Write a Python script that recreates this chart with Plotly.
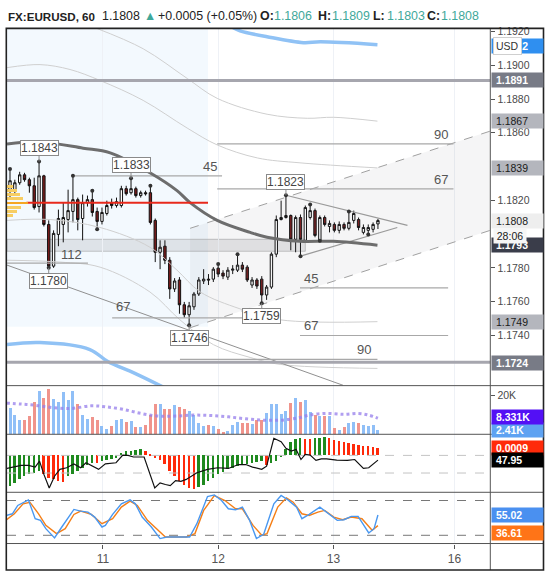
import plotly.graph_objects as go

# ---------------- data ----------------
bar_index = list(range(77))
opens = [1.18257, 1.18257, 1.18304, 1.18351, 1.18322, 1.18286, 1.18163, 1.18345, 1.18057, 1.17810,
         1.17998, 1.18057, 1.18086, 1.18134, 1.18204, 1.18092, 1.18186, 1.18204, 1.18134, 1.18075,
         1.18122, 1.18186, 1.18169, 1.18169, 1.18269, 1.18245, 1.18269, 1.18228, 1.18245, 1.18245,
         1.18081, 1.17892, 1.17928, 1.17845, 1.17675, 1.17728, 1.17581, 1.17522, 1.17569, 1.17645,
         1.17722, 1.17733, 1.17733, 1.17798, 1.17769, 1.17745, 1.17786, 1.17786, 1.17816, 1.17804,
         1.17698, 1.17728, 1.17733, 1.17639, 1.17686, 1.17881, 1.18086, 1.18098, 1.18110, 1.17969,
         1.18098, 1.17963, 1.18098, 1.18139, 1.17963, 1.18098, 1.18045, 1.18057, 1.18022, 1.18057,
         1.18034, 1.18081, 1.18086, 1.18010, 1.18022, 1.18028, 1.18060]
highs = [1.18386, 1.18322, 1.18369, 1.18363, 1.18334, 1.18334, 1.18430, 1.18351, 1.18081, 1.18022,
         1.18145, 1.18186, 1.18263, 1.18345, 1.18216, 1.18234, 1.18228, 1.18257, 1.18157, 1.18157,
         1.18198, 1.18210, 1.18216, 1.18286, 1.18286, 1.18330, 1.18281, 1.18257, 1.18257, 1.18286,
         1.18092, 1.17963, 1.17963, 1.17863, 1.17739, 1.17745, 1.17598, 1.17598, 1.17657, 1.17745,
         1.17792, 1.17763, 1.17804, 1.17822, 1.17786, 1.17804, 1.17816, 1.17881, 1.17834, 1.17816,
         1.17745, 1.17739, 1.17751, 1.17698, 1.17892, 1.18110, 1.18198, 1.18230, 1.18116, 1.18110,
         1.18116, 1.18169, 1.18175, 1.18151, 1.18110, 1.18110, 1.18081, 1.18069, 1.18075, 1.18069,
         1.18134, 1.18139, 1.18098, 1.18057, 1.18057, 1.18069, 1.18090]
lows = [1.18216, 1.18228, 1.18292, 1.18310, 1.18245, 1.18145, 1.18128, 1.18045, 1.17800, 1.17800,
        1.17928, 1.17951, 1.18010, 1.18069, 1.18022, 1.17963, 1.18163, 1.18104, 1.18028, 1.18057,
        1.18110, 1.18151, 1.18157, 1.18157, 1.18228, 1.18234, 1.18216, 1.18216, 1.18228, 1.18057,
        1.17834, 1.17792, 1.17822, 1.17616, 1.17657, 1.17528, 1.17504, 1.17460, 1.17551, 1.17633,
        1.17704, 1.17698, 1.17716, 1.17745, 1.17733, 1.17728, 1.17763, 1.17775, 1.17775, 1.17716,
        1.17681, 1.17675, 1.17590, 1.17610, 1.17675, 1.17863, 1.18081, 1.18092, 1.17904, 1.17892,
        1.17869, 1.17951, 1.18086, 1.17981, 1.17960, 1.18045, 1.18010, 1.18010, 1.18004, 1.18022,
        1.18022, 1.18063, 1.18022, 1.17998, 1.17998, 1.18010, 1.18030]
closes = [1.18316, 1.18304, 1.18351, 1.18322, 1.18286, 1.18157, 1.18345, 1.18057, 1.17810, 1.18004,
          1.18092, 1.18098, 1.18139, 1.18204, 1.18086, 1.18186, 1.18204, 1.18128, 1.18075, 1.18128,
          1.18169, 1.18169, 1.18192, 1.18269, 1.18239, 1.18269, 1.18228, 1.18245, 1.18239, 1.18069,
          1.17892, 1.17922, 1.17845, 1.17675, 1.17722, 1.17581, 1.17522, 1.17575, 1.17645, 1.17728,
          1.17733, 1.17728, 1.17792, 1.17763, 1.17751, 1.17786, 1.17792, 1.17816, 1.17792, 1.17728,
          1.17728, 1.17692, 1.17639, 1.17686, 1.17881, 1.18086, 1.18098, 1.18110, 1.17969, 1.18098,
          1.17969, 1.18157, 1.18139, 1.17992, 1.18098, 1.18057, 1.18063, 1.18022, 1.18057, 1.18034,
          1.18069, 1.18122, 1.18039, 1.18039, 1.18039, 1.18057, 1.18080]

volumes_k = [13.8, 10.3, 7.6, 7.6, 9.7, 17.0, 22.3, 18.8, 23.5, 18.2,
             16.8, 21.8, 17.9, 22.8, 15.8, 9.9, 8.0, 9.0, 7.6, 4.4,
             3.0, 4.4, 7.6, 8.1, 6.7, 6.9, 4.1, 4.1, 5.0, 10.3,
             15.9, 15.9, 13.5, 13.3, 15.2, 14.2, 13.5, 12.0, 10.3, 6.2,
             4.4, 5.0, 4.4, 3.0, 1.4, 1.9, 5.0, 6.7, 5.8, 5.8,
             5.3, 7.6, 7.6, 11.2, 15.6, 15.9, 10.8, 12.4, 16.5, 19.1,
             16.8, 18.1, 11.5, 10.3, 9.4, 9.7, 9.4, 3.5, 2.3, 3.7,
             5.8, 6.7, 6.2, 5.0, 4.4, 5.0, 2.41]
vol_ma_x = [-0.7, 2.3, 5.2, 8.8, 12.5, 16.8, 19.7, 23.3, 27.0, 30.6, 34.2, 37.9, 41.5, 45.1,
            48.7, 52.4, 56.0, 59.6, 61.8, 65.4, 69.0, 71.9, 74.1, 76.0]
vol_ma_k = [16.1, 15.6, 15.0, 13.8, 13.3, 14.7, 14.2, 12.9, 10.8, 9.4, 9.4, 9.9, 9.7, 9.0,
            8.0, 7.3, 7.3, 8.5, 9.9, 10.8, 10.3, 10.8, 9.9, 8.331]

hist_e4 = [-37.6, -33.5, -29.4, -25.4, -23.3, -21.3, -19.2, -23.3, -27.4, -29.4,
           -31.5, -32.0, -25.4, -23.3, -19.2, -15.1, -12.3, -9.0, -9.5, -7.0,
           -5.7, -4.9, -3.7, 2.5, 4.5, 5.3, 6.1, 7.0, 4.5, 2.0,
           -2.9, -5.7, -11.0, -19.2, -25.4, -30.7, -35.6, -39.7, -40.9, -38.9,
           -35.6, -31.5, -27.4, -23.3, -20.0, -17.2, -15.1, -13.1, -11.0, -10.2,
           -9.0, -8.2, -7.4, -12.0, -9.0, -7.0, -2.0, 7.4, 16.4, 19.6,
           20.9, 19.6, 19.5, 20.9, 21.0, 21.7, 20.9, 18.4, 17.2, 16.4,
           15.1, 13.9, 12.7, 11.5, 10.6, 9.8, 9.0]
osc_x = [-0.7, 0.9, 2.3, 3.8, 5.2, 6.1, 7.0, 8.1, 9.2, 10.3, 11.7, 13.2, 14.6, 15.7, 17.2, 18.3,
         19.7, 21.9, 23.3, 24.4, 25.5, 27.7, 29.9, 31.0, 32.1, 33.1, 34.2, 35.3, 36.4, 38.6,
         40.8, 42.9, 45.1, 47.2, 48.7, 50.1, 52.0, 53.0, 54.5, 56.0, 57.0, 58.1, 59.1, 60.1,
         61.0, 62.0, 63.2, 64.3, 65.4, 67.5, 69.7, 71.2, 73.0, 74.1, 76.0]
osc_v = [44.3, 44.9, 45.6, 45.6, 44.9, 47.5, 41.7, 35.8, 40.9, 43.9, 44.6, 46.3, 44.6, 46.8, 45.3, 43.9,
         46.3, 46.8, 50.1, 50.0, 49.3, 49.3, 35.8, 38.0, 37.3, 36.8, 39.0, 38.7, 39.5, 42.4,
         43.9, 44.6, 44.3, 46.0, 46.0, 44.9, 43.9, 45.3, 57.5, 56.0, 53.1, 51.9, 52.6, 48.2,
         50.4, 50.1, 47.8, 48.5, 48.5, 47.95, 47.8, 48.2, 44.3, 44.6, 47.95]
osc_levels = [50.0, 42.3]

k_x = [-0.7, 0.5, 1.6, 3.0, 3.8, 5.2, 6.3, 7.4, 9.2, 10.7, 13.2, 14.6, 16.1, 17.5, 19.0, 19.7,
       21.2, 23.0, 24.8, 25.9, 27.3, 29.2, 31.0, 32.4, 37.1, 38.6, 40.8, 42.2, 43.7, 45.1,
       46.6, 48.0, 49.5, 50.9, 52.4, 54.5, 56.0, 57.4, 59.2, 60.3, 61.8, 64.0, 65.4, 67.6,
       69.0, 70.5, 71.9, 74.1, 75.2, 76.0]
k_v = [54.3, 57.1, 71.4, 77.1, 81.1, 48.6, 45.7, 31.4, 15.4, 34.3, 64.6, 61.7, 60.0, 51.4, 34.3, 37.1,
       56.0, 74.3, 81.1, 74.3, 51.4, 34.3, 14.3, 17.1, 17.1, 40.0, 86.9, 89.7, 80.0, 65.7,
       64.0, 68.6, 45.7, 14.3, 21.7, 74.3, 88.6, 81.1, 68.6, 48.6, 56.0, 68.6, 60.0, 45.7,
       46.9, 52.6, 52.6, 24.0, 31.4, 55.02]
d_x = [-0.7, 0.9, 2.7, 4.1, 5.9, 7.4, 9.6, 11.4, 13.2, 14.6, 16.8, 19.0, 21.2, 23.0, 24.8, 26.3,
       28.4, 30.2, 32.1, 36.4, 38.2, 40.0, 42.2, 44.4, 46.6, 48.0, 50.2, 52.0, 53.1, 55.3,
       57.1, 58.5, 60.3, 61.8, 63.6, 65.0, 66.9, 68.7, 70.5, 72.7, 74.8, 76.0]
d_v = [46.9, 57.1, 74.3, 77.1, 57.1, 37.1, 22.9, 31.4, 56.0, 61.7, 56.0, 40.0, 48.6, 68.6, 78.9, 71.4,
       45.7, 31.4, 17.1, 17.1, 22.9, 62.9, 88.6, 80.0, 65.7, 65.7, 37.1, 20.0, 22.9, 68.6,
       84.6, 77.1, 57.1, 54.3, 60.0, 62.9, 51.4, 46.9, 51.4, 48.6, 28.6, 36.61]
stoch_levels = [80, 20]

# overlays on the price panel
ma_x = [-0.62, 6.2, 15.1, 20.7, 28.9, 34.5, 37.2, 42.8, 49.6, 53.1, 59.9, 66.8, 75.9]
ma_p = [1.18534, 1.18546, 1.18509, 1.18481, 1.18363, 1.18257, 1.18186, 1.18081, 1.18010,
        1.17981, 1.17957, 1.17957, 1.17934]
band_a_x = [17.6, 27.5, 36.6, 42.8, 53.1, 61.4, 66.8, 75.9]
band_a_p = [1.19222, 1.19098, 1.18922, 1.18804, 1.18710, 1.18686, 1.18692, 1.18669]
band_b_x = [-0.62, 6.2, 12.4, 18.6, 27.5, 36.6, 42.8, 51.1, 59.9, 75.9]
band_b_p = [1.18986, 1.19004, 1.18975, 1.18910, 1.18792, 1.18628, 1.18528, 1.18451, 1.18422, 1.18392]
band_c_x = [-0.62, 8.3, 18.6, 28.9, 34.5, 39.3, 47.5, 55.8, 75.9]
band_c_p = [1.18081, 1.18086, 1.18039, 1.17922, 1.17786, 1.17657, 1.17557, 1.17492, 1.17481]
band_d_x = [-0.62, 10.3, 18.6, 28.9, 35.1, 42.0, 49.6, 55.8, 75.9]
band_d_p = [1.17845, 1.17834, 1.17804, 1.17657, 1.17492, 1.17345, 1.17269, 1.17228, 1.17204]
blue_top_x = [46.1, 47.5, 53.1, 60.6, 64.1, 75.9]
blue_top_p = [1.19222, 1.19204, 1.19169, 1.19134, 1.19139, 1.19122]
blue_low_x = [-0.62, 6.2, 16.5, 20.2, 25.8, 32.6]
blue_low_p = [1.17345, 1.17357, 1.17316, 1.17245, 1.17175, 1.17080]
trend_x = [-0.62, 68.8]
trend_p = [1.17816, 1.17104]
channel_up_x = [37.2, 99.2]
channel_up_p = [1.18034, 1.18610]
channel_lo_x = [37.2, 99.2]
channel_lo_p = [1.17445, 1.18022]
tri_up_x = [57, 82.1]
tri_up_p = [1.18230, 1.18051]
tri_lo_x = [60, 80.0]
tri_lo_p = [1.17869, 1.18039]
red_level = 1.18185
red_x = [3.4, 40.9]
band_zone = [1.17898, 1.17969]
band_zone_x = [-0.62, 61.0]
session_x = [-0.62, 40.9]
session_p = [1.17451, 1.19216]

fib_text = ["45", "90", "67", "45", "67", "90", "67", "112"]
fib_price = [1.18345, 1.18534, 1.18268, 1.17681, 1.17399, 1.17257, 1.17504, 1.17828]
fib_x0 = [13.0, 42.8, 42.8, 59.9, 59.9, 35.1, 21.1, -0.62]
fib_x1 = [43.8, 91.6, 91.6, 90.5, 90.5, 75.9, 48.6, 16.1]
fib_label_x = [41.3, 89.1, 89.1, 62.2, 62.2, 73.2, 23.4, 12.8]
fib_label_p = [1.18403, 1.18592, 1.18322, 1.17738, 1.17457, 1.17316, 1.17569, 1.17881]

pivot_high_idx = [0, 6, 13, 17, 25, 29, 43, 47, 57, 62, 70]
pivot_low_idx = [8, 18, 37, 52, 60, 64, 74]
pivot_label_idx = [6, 25, 57, 8, 37, 52]
pivot_label_kind = ["high", "high", "high", "low", "low", "low"]

profile_p = [1.18285, 1.18260, 1.18235, 1.18210, 1.18185, 1.18160, 1.18135, 1.18110]
profile_v = [30, 48, 62, 76, 100, 66, 48, 30]

day_ticks = [19.2, 43.0, 66.8, 91.8]
day_labels = ["11", "12", "13", "16"]
price_ticks = [1.174, 1.176, 1.178, 1.182, 1.186, 1.188, 1.190, 1.192]

# header pieces: (text, left x in px, colour key, bold)
header_parts = [("FX:EURUSD, 60", 6.3, "dark", True), ("1.1808", 99.5, "dark", False),
                ("▲", 141.5, "teal", False), ("+0.0005 (+0.05%)", 156, "dark", False),
                ("O:", 257.5, "dark", True), ("1.1806", 272, "teal", False),
                ("H:", 315.5, "dark", True), ("1.1809", 330, "teal", False),
                ("L:", 371, "dark", True), ("1.1803", 384.5, "teal", False),
                ("C:", 425, "dark", True), ("1.1808", 439, "teal", False)]

# ---------------- layout helpers ----------------
W, H = 549, 576
def px(xp):
    return xp / W
def py(yp):
    return 1 - yp / H

X_DOM = [px(7), px(490.3)]
X_RANGE = [-0.62, 99.21]
P_RANGE = [1.17102, 1.19216]

fig = go.Figure()

fig.add_trace(go.Scatter(
    x=channel_up_x + channel_lo_x[::-1], y=channel_up_p + channel_lo_p[::-1],
    fill="toself", fillcolor="rgba(120,120,130,0.07)", line=dict(width=0),
    mode="lines", hoverinfo="skip", showlegend=False))
for cx, cp in [(channel_up_x, channel_up_p), (channel_lo_x, channel_lo_p)]:
    fig.add_trace(go.Scatter(x=cx, y=cp, mode="lines",
                             line=dict(color="#a0a0a0", width=1, dash="dash"),
                             hoverinfo="skip", showlegend=False))

for bx, bp in [(band_a_x, band_a_p), (band_b_x, band_b_p), (band_c_x, band_c_p), (band_d_x, band_d_p)]:
    fig.add_trace(go.Scatter(x=bx, y=bp, mode="lines", line=dict(color="#cfcfcf", width=1, shape="spline"),
                             hoverinfo="skip", showlegend=False))

for bx, bp in [(blue_top_x, blue_top_p), (blue_low_x, blue_low_p)]:
    fig.add_trace(go.Scatter(x=bx, y=bp, mode="lines", line=dict(color="#90c2f5", width=3.5, shape="spline"),
                             hoverinfo="skip", showlegend=False))

fig.add_trace(go.Scatter(x=trend_x, y=trend_p, mode="lines", line=dict(color="#909090", width=1),
                         hoverinfo="skip", showlegend=False))

fx, fy = [], []
for a, b, p in zip(fib_x0, fib_x1, fib_price):
    fx += [a, b, None]
    fy += [p, p, None]
fig.add_trace(go.Scatter(x=fx, y=fy, mode="lines", line=dict(color="#a8a8a8", width=1.2),
                         hoverinfo="skip", showlegend=False))

for tx, tp in [(tri_up_x, tri_up_p), (tri_lo_x, tri_lo_p)]:
    fig.add_trace(go.Scatter(x=tx, y=tp, mode="lines", line=dict(color="#9a9a9a", width=1.2),
                             hoverinfo="skip", showlegend=False))

fig.add_trace(go.Scatter(x=ma_x, y=ma_p, mode="lines", line=dict(color="#6d6d6d", width=3, shape="spline"),
                         hoverinfo="skip", showlegend=False))

fig.add_trace(go.Scatter(x=red_x, y=[red_level, red_level], mode="lines",
                         line=dict(color="#e8291c", width=2), hoverinfo="skip", showlegend=False))

fig.add_trace(go.Bar(x=profile_v, y=profile_p, orientation="h", xaxis="x5", yaxis="y",
                     width=0.00017,
                     marker=dict(color=["#f5a623" if v == max(profile_v) else "#f7cd63" for v in profile_v],
                                 line=dict(width=0)),
                     hoverinfo="skip", showlegend=False))

fig.add_trace(go.Candlestick(
    x=bar_index, open=opens, high=highs, low=lows, close=closes,
    increasing=dict(line=dict(color="#111111", width=1), fillcolor="#ffffff"),
    decreasing=dict(line=dict(color="#111111", width=1), fillcolor="#7a1c1c"),
    whiskerwidth=0, hoverinfo="skip", showlegend=False))

fig.add_trace(go.Scatter(
    x=pivot_high_idx + pivot_low_idx,
    y=[highs[i] for i in pivot_high_idx] + [lows[i] for i in pivot_low_idx],
    mode="markers", marker=dict(color="#333333", size=4), hoverinfo="skip", showlegend=False))

up = [c >= o for o, c in zip(opens, closes)]
fig.add_trace(go.Bar(x=bar_index, y=[v * 1000 for v in volumes_k], xaxis="x2", yaxis="y2", width=0.62,
                     marker=dict(color=["#90bff7" if u else "#f0948c" for u in up], line=dict(width=0)),
                     hoverinfo="skip", showlegend=False))
fig.add_trace(go.Scatter(x=vol_ma_x, y=[v * 1000 for v in vol_ma_k], xaxis="x2", yaxis="y2", mode="lines",
                         line=dict(color="rgba(150,125,235,0.75)", width=3, dash="dot", shape="spline"),
                         hoverinfo="skip", showlegend=False))

hist = [h * 1e-4 for h in hist_e4]
hcol = ["#1f8a1f" if (i == 0 or hist[i] >= hist[i - 1]) else "#ff2a0a" for i in range(len(hist))]
fig.add_trace(go.Bar(x=bar_index, y=hist, xaxis="x3", yaxis="y3", width=0.4,
                     marker=dict(color=hcol, line=dict(width=0)), hoverinfo="skip", showlegend=False))
lx, ly = [], []
for lv in osc_levels:
    lx += [X_RANGE[0], X_RANGE[1], None]
    ly += [lv, lv, None]
fig.add_trace(go.Scatter(x=lx, y=ly, xaxis="x3", yaxis="y4", mode="lines",
                         line=dict(color="#c4c4c4", width=1, dash="dash"), hoverinfo="skip", showlegend=False))
fig.add_trace(go.Scatter(x=osc_x, y=osc_v, xaxis="x3", yaxis="y4", mode="lines",
                         line=dict(color="#111111", width=1.2), hoverinfo="skip", showlegend=False))

sx, sy = [], []
for lv in stoch_levels:
    sx += [X_RANGE[0], X_RANGE[1], None]
    sy += [lv, lv, None]
fig.add_trace(go.Scatter(x=sx, y=sy, xaxis="x4", yaxis="y5", mode="lines",
                         line=dict(color="#777777", width=1, dash="dash"), hoverinfo="skip", showlegend=False))
fig.add_trace(go.Scatter(x=d_x, y=d_v, xaxis="x4", yaxis="y5", mode="lines",
                         line=dict(color="#f57f17", width=1.4), hoverinfo="skip", showlegend=False))
fig.add_trace(go.Scatter(x=k_x, y=k_v, xaxis="x4", yaxis="y5", mode="lines",
                         line=dict(color="#4a98f0", width=1.4), hoverinfo="skip", showlegend=False))

# ---------------- axes ----------------
xcommon = dict(range=X_RANGE, domain=X_DOM, showgrid=True, gridcolor="#eef1f6", gridwidth=1,
               tickvals=day_ticks, ticktext=day_labels, zeroline=False, showline=False, fixedrange=True)
tick_font = dict(family="Liberation Sans, Arial, sans-serif", size=10.5, color="#4a4a4a")

layout = dict(
    width=W, height=H, autosize=False, margin=dict(l=0, r=0, t=0, b=0),
    paper_bgcolor="white", plot_bgcolor="rgba(0,0,0,0)",
    showlegend=False, hovermode=False, bargap=0,
    xaxis=dict(**xcommon, anchor="y", showticklabels=False, rangeslider=dict(visible=False)),
    xaxis2=dict(**xcommon, anchor="y2", showticklabels=False),
    xaxis3=dict(**xcommon, anchor="y3", showticklabels=False),
    xaxis4=dict(**xcommon, anchor="y5", showticklabels=True, ticks="outside", ticklen=4,
                tickcolor="#555555", tickfont=dict(family="Liberation Sans, Arial, sans-serif", size=12, color="#555555")),
    xaxis5=dict(range=[0, 100 * 483 / 21], domain=X_DOM, anchor="y", overlaying="x", visible=False, fixedrange=True),
    yaxis=dict(domain=[py(384.3), py(25)], range=P_RANGE, side="right", anchor="x",
               tickvals=price_ticks, ticktext=["%.4f" % t for t in price_ticks],
               ticks="outside", ticklen=4, tickcolor="#555555", tickfont=tick_font,
               showgrid=False, zeroline=False, fixedrange=True),
    yaxis2=dict(domain=[py(433.3), py(384.3)], range=[0, 25128], side="right", anchor="x2",
                tickvals=[20000], ticktext=["20K"], ticks="outside", ticklen=4, tickcolor="#555555",
                tickfont=tick_font, showgrid=False, zeroline=False, fixedrange=True),
    yaxis3=dict(domain=[py(491.7), py(433.3)], range=[-0.004452, 0.002556], side="right", anchor="x3",
                showticklabels=False, showgrid=False, zeroline=False, fixedrange=True),
    yaxis4=dict(domain=[py(491.7), py(433.3)], range=[33.89, 59.22], overlaying="y3", side="right",
                anchor="x3", showticklabels=False, showgrid=False, zeroline=False, fixedrange=True),
    yaxis5=dict(domain=[py(543.3), py(491.7)], range=[5.77, 94.2], side="right", anchor="x4",
                showticklabels=False, showgrid=False, zeroline=False, fixedrange=True),
)
fig.update_layout(**layout)

# ---------------- shapes ----------------
shapes = []
shapes.append(dict(type="rect", xref="x", yref="y", x0=session_x[0], x1=session_x[1],
                   y0=session_p[0], y1=session_p[1], fillcolor="rgba(33,150,243,0.055)",
                   line=dict(width=0), layer="below"))
shapes.append(dict(type="rect", xref="x", yref="y", x0=band_zone_x[0], x1=band_zone_x[1],
                   y0=band_zone[0], y1=band_zone[1], fillcolor="rgba(150,150,155,0.22)",
                   line=dict(color="rgba(140,140,140,0.45)", width=1), layer="below"))
for lvl in [1.1891, 1.1724]:
    shapes.append(dict(type="line", xref="paper", yref="y", x0=px(7), x1=px(490.3), y0=lvl, y1=lvl,
                       line=dict(color="#a6a6ae", width=3), layer="above"))
frame = dict(color="#555555", width=1)
for yy in [384.3, 433.3, 491.7, 543.3]:
    shapes.append(dict(type="line", xref="paper", yref="paper", x0=px(6), x1=px(543.5),
                       y0=py(yy), y1=py(yy), line=frame, layer="above"))
shapes.append(dict(type="line", xref="paper", yref="paper", x0=px(490.3), x1=px(490.3),
                   y0=py(24.5), y1=py(570), line=frame, layer="above"))
shapes.append(dict(type="rect", xref="paper", yref="paper", x0=px(6.3), x1=px(543.5),
                   y0=py(570), y1=py(24.5), line=dict(color="#222222", width=1.6), layer="above"))
fig.update_layout(shapes=shapes)

# ---------------- annotations ----------------
ann = []
FONT = "Liberation Sans, Arial, sans-serif"
hcolors = {"dark": "#222222", "teal": "#3fa89a"}
for text, xl, ck, bold in header_parts:
    ann.append(dict(x=px(xl), y=py(12.5), xref="paper", yref="paper", xanchor="left", yanchor="middle",
                    text="<b>%s</b>" % text if bold else text, showarrow=False,
                    font=dict(family=FONT, size=11.6 if bold and xl < 50 else 12.4, color=hcolors[ck])))

for t, lxv, lpv in zip(fib_text, fib_label_x, fib_label_p):
    ann.append(dict(x=lxv, y=lpv, xref="x", yref="y", text=t, showarrow=False,
                    font=dict(family=FONT, size=13, color="#555555")))

for idx, kind in zip(pivot_label_idx, pivot_label_kind):
    val = highs[idx] if kind == "high" else lows[idx]
    ann.append(dict(x=idx, y=val, xref="x", yref="y", text="%.4f" % val, showarrow=True,
                    ax=0, ay=-13 if kind == "high" else 13, arrowhead=0, arrowwidth=1, arrowcolor="#8a8a8a",
                    bgcolor="white", bordercolor="#8a8a8a", borderwidth=1, borderpad=0,
                    font=dict(family=FONT, size=12, color="#444444")))

def axis_label(text, y, yref, bg, fg, bold=False, yshift=0):
    t = "<b>%s</b>" % text if bold else text
    ann.append(dict(x=px(490.8), y=y, xref="paper", yref=yref, xanchor="left", yanchor="middle",
                    text="\u00a0" + t, showarrow=False, bgcolor=bg, width=49, align="left", borderpad=1,
                    yshift=yshift, font=dict(family=FONT, size=10.5, color=fg)))

axis_label("1.1912", 1.19116, "y", "#2f8ff0", "white", True)
axis_label("1.1891", 1.1891, "y", "#787b86", "white", True)
axis_label("1.1867", 1.18669, "y", "#b4b6bd", "#1a1a1a")
axis_label("1.1839", 1.18392, "y", "#b4b6bd", "#1a1a1a")
axis_label("1.1808", 1.18080, "y", "#eeeeee", "#1a1a1a")
axis_label("1.1793", 1.17934, "y", "#3a3d4a", "white", True)
axis_label("1.1749", 1.17481, "y", "#b4b6bd", "#1a1a1a")
axis_label("1.1724", 1.17234, "y", "#787b86", "white", True)
ann.append(dict(x=px(493), y=1.17990, xref="paper", yref="y", xanchor="left", yanchor="middle",
                text="28:06", showarrow=False, bgcolor="#f6f6f6", borderpad=1, width=30,
                font=dict(family=FONT, size=10.5, color="#1a1a1a")))
ann.append(dict(x=px(493), y=1.19116, xref="paper", yref="y", xanchor="left", yanchor="middle",
                text="USD", showarrow=False, bgcolor="white", bordercolor="#cfcfcf", borderwidth=1,
                borderpad=2, font=dict(family=FONT, size=10.5, color="#333333")))
axis_label("2.41K", 2410, "y2", "#5ea2f2", "white", True)
axis_label("8.331K", 8331, "y2", "#5310f5", "white", True, yshift=1)
axis_label("0.0009", 0.0009, "y3", "#ff2a0a", "white", True)
axis_label("47.95", 47.95, "y4", "#000000", "white", True)
axis_label("55.02", 55.02, "y5", "#4a90f0", "white", True)
axis_label("36.61", 36.61, "y5", "#ff7417", "white", True, yshift=-7)

fig.update_layout(annotations=ann)

fig.write_html("out.html", config={"displayModeBar": False},
               post_script="document.body.style.margin='0';document.body.style.padding='0';"
                           "document.documentElement.style.overflow='hidden';")
